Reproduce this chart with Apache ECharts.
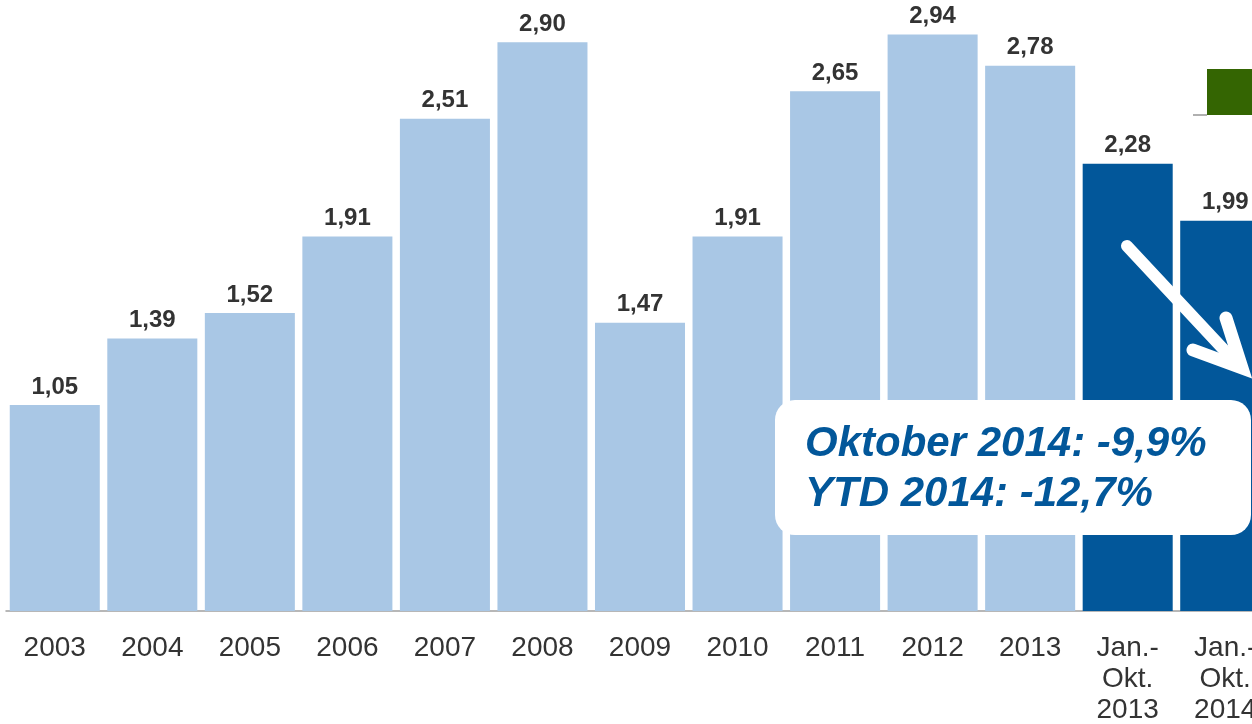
<!DOCTYPE html>
<html>
<head>
<meta charset="utf-8">
<script src="https://cdn.jsdelivr.net/npm/echarts@6/dist/echarts.min.js"></script>
<style>
html,body{margin:0;padding:0;background:#fff;overflow:hidden;}
#chart{width:1252px;height:724px;}
</style>
</head>
<body>
<div id="chart"></div>
<script>
const categories = ['2003','2004','2005','2006','2007','2008','2009','2010','2011','2012','2013','Jan.-\nOkt.\n2013','Jan.-\nOkt.\n2014'];
const values = [1.05, 1.39, 1.52, 1.91, 2.51, 2.90, 1.47, 1.91, 2.65, 2.94, 2.78, 2.28, 1.99];
const isYtd = [false,false,false,false,false,false,false,false,false,false,false,true,true];
const noteLines = ['Oktober 2014: -9,9%', 'YTD 2014: -12,7%'];

const LIGHT = '#a9c7e5', DARK = '#02579a', TEXT = '#333333';

const chart = echarts.init(document.getElementById('chart'));
chart.setOption({
  animation: false,
  grid: { left: 6, top: 3, width: 1268, height: 608, containLabel: false, outerBoundsMode: 'none' },
  xAxis: {
    type: 'category',
    data: categories,
    axisLine: { show: true, lineStyle: { color: '#a0a0a0', width: 1.5 } },
    axisTick: { show: false },
    axisLabel: { color: TEXT, fontFamily: 'Liberation Sans, Arial, sans-serif', fontSize: 28, lineHeight: 31, margin: 22, interval: 0 }
  },
  yAxis: { type: 'value', min: 0, max: 3.1, show: false, splitLine: { show: false } },
  series: [{
    type: 'bar',
    barCategoryGap: '7.7%',
    data: values.map((v, i) => ({ value: v, itemStyle: { color: isYtd[i] ? DARK : LIGHT } })),
    label: {
      show: true, position: 'top', distance: 6,
      color: TEXT, fontFamily: 'Liberation Sans, Arial, sans-serif', fontSize: 24, fontWeight: 'bold',
      formatter: p => p.value.toFixed(2).replace('.', ',')
    }
  }],
  graphic: [
    { type: 'rect', shape: { x: 1207, y: 69, width: 60, height: 46 }, style: { fill: '#346502' }, z: 10 },
    { type: 'line', shape: { x1: 1193, y1: 115, x2: 1207, y2: 115 }, style: { stroke: '#b0b0b0', lineWidth: 2 }, z: 10 },
    { type: 'polyline', shape: { points: [[1127, 246], [1240, 367]] }, style: { stroke: '#fff', lineWidth: 12, lineCap: 'round', fill: null }, z: 10 },
    { type: 'polyline', shape: { points: [[1193, 350], [1242, 368], [1226, 318]] }, style: { stroke: '#fff', lineWidth: 13, lineCap: 'round', lineJoin: 'miter', fill: null }, z: 10 },
    { type: 'rect', shape: { x: 775, y: 400, width: 476, height: 135, r: 20 }, style: { fill: '#fff' }, z: 11 },
    { type: 'text', x: 805, y: 444, style: { text: noteLines[0], fill: DARK, font: 'italic bold 42px "Liberation Sans", Arial, sans-serif', textVerticalAlign: 'middle' }, z: 12 },
    { type: 'text', x: 805, y: 494, style: { text: noteLines[1], fill: DARK, font: 'italic bold 42px "Liberation Sans", Arial, sans-serif', textVerticalAlign: 'middle' }, z: 12 }
  ]
});
</script>
</body>
</html>
